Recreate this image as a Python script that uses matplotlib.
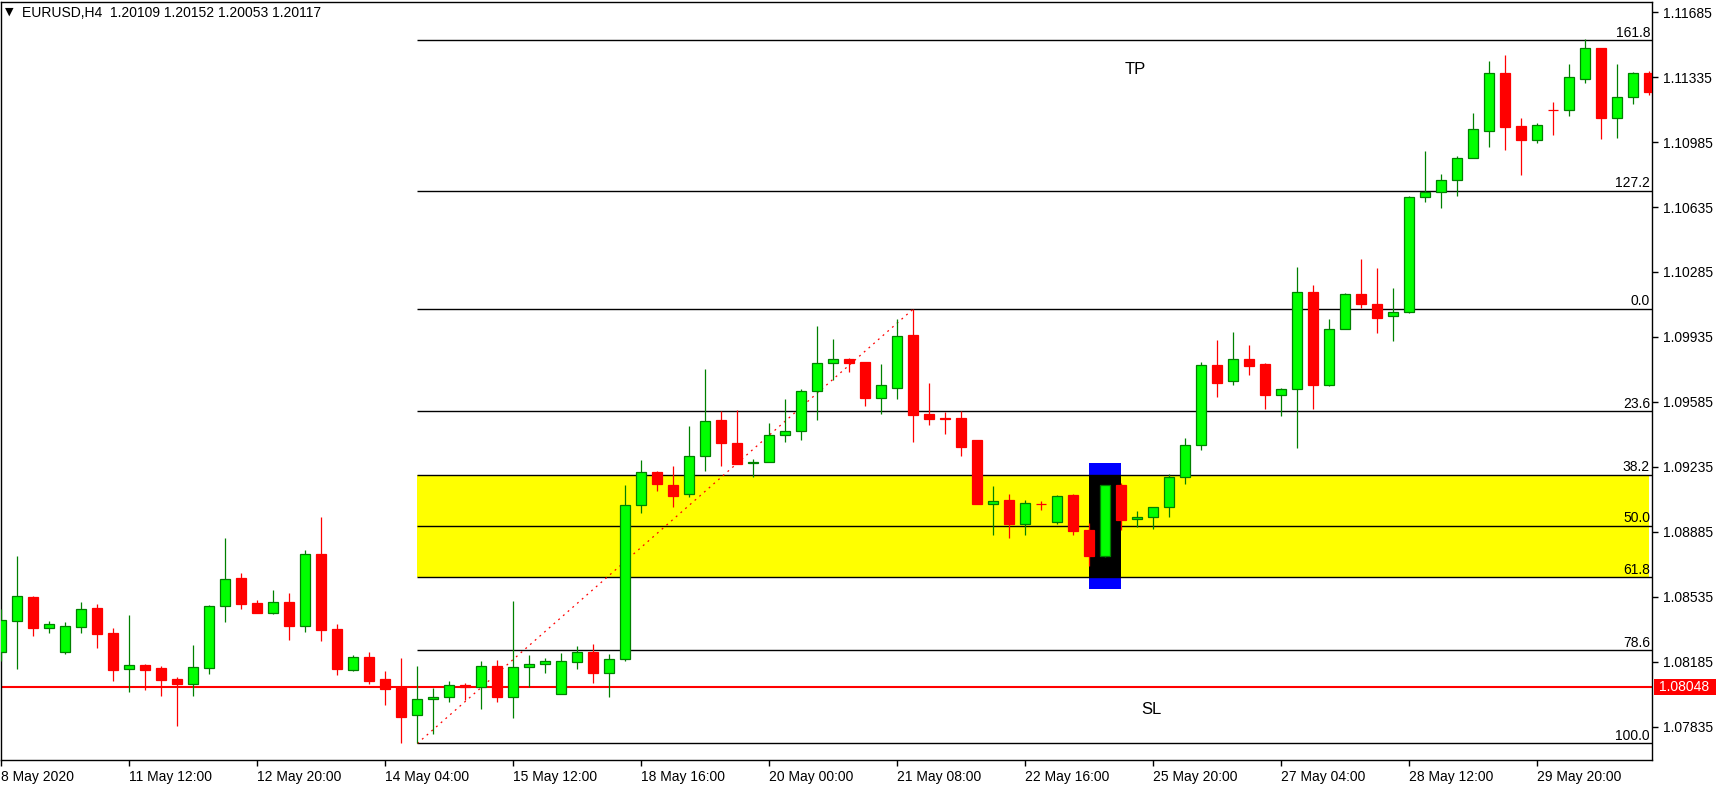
import matplotlib
matplotlib.use('Agg')
import matplotlib.pyplot as plt
from matplotlib.patches import Rectangle
import matplotlib.transforms as mtransforms

# ---------------- data (EURUSD H4 candles) ----------------
opens = [1.08240, 1.08404, 1.08533, 1.08370, 1.08240, 1.08375, 1.08474, 1.08340, 1.08149, 1.08167,
         1.08151, 1.08092, 1.08065, 1.08154, 1.08488, 1.08636, 1.08501, 1.08451, 1.08506, 1.08380,
         1.08765, 1.08361, 1.08144, 1.08210, 1.08092, 1.08052, 1.07897, 1.07984, 1.07995, 1.08060,
         1.08052, 1.08162, 1.07998, 1.08157, 1.08173, 1.08014, 1.08183, 1.08237, 1.08127, 1.08200,
         1.09029, 1.09206, 1.09136, 1.09087, 1.09292, 1.09486, 1.09363, 1.09258, 1.09260, 1.09406,
         1.09427, 1.09643, 1.09793, 1.09815, 1.09799, 1.09608, 1.09662, 1.09946, 1.09520, 1.09497,
         1.09498, 1.09381, 1.09034, 1.09055, 1.08930, 1.09036, 1.08940, 1.09082, 1.08894, 1.08757,
         1.09136, 1.08953, 1.08964, 1.09018, 1.09180, 1.09352, 1.09783, 1.09697, 1.09819, 1.09789,
         1.09621, 1.09656, 1.10176, 1.09678, 1.09976, 1.10165, 1.10111, 1.10046, 1.10068, 1.10687,
         1.10714, 1.10779, 1.10897, 1.11043, 1.11355, 1.11070, 1.10994, 1.11160, 1.11156, 1.11326,
         1.11490, 1.11117, 1.11226, 1.11355]
highs = [1.08470, 1.08756, 1.08540, 1.08406, 1.08400, 1.08508, 1.08497, 1.08368, 1.08438, 1.08174,
         1.08163, 1.08104, 1.08277, 1.08492, 1.08853, 1.08664, 1.08519, 1.08573, 1.08557, 1.08788,
         1.08966, 1.08390, 1.08223, 1.08239, 1.08137, 1.08207, 1.08163, 1.08045, 1.08083, 1.08070,
         1.08190, 1.08196, 1.08513, 1.08223, 1.08205, 1.08232, 1.08270, 1.08282, 1.08228, 1.09136,
         1.09273, 1.09213, 1.09240, 1.09456, 1.09763, 1.09534, 1.09542, 1.09276, 1.09470, 1.09601,
         1.09653, 1.09994, 1.09924, 1.09822, 1.09799, 1.09790, 1.10032, 1.10086, 1.09687, 1.09531,
         1.09535, 1.09381, 1.09133, 1.09090, 1.09057, 1.09050, 1.09084, 1.09090, 1.08932, 1.09136,
         1.09147, 1.08998, 1.09018, 1.09197, 1.09391, 1.09800, 1.09919, 1.09962, 1.09890, 1.09794,
         1.09660, 1.10312, 1.10213, 1.10030, 1.10170, 1.10355, 1.10307, 1.10197, 1.10694, 1.10937,
         1.10813, 1.10910, 1.11141, 1.11421, 1.11455, 1.11114, 1.11087, 1.11200, 1.11405, 1.11540,
         1.11490, 1.11405, 1.11360, 1.11366]
lows = [1.08192, 1.08149, 1.08327, 1.08343, 1.08230, 1.08343, 1.08262, 1.08084, 1.08025, 1.08036,
        1.08004, 1.07842, 1.08004, 1.08122, 1.08402, 1.08472, 1.08450, 1.08445, 1.08305, 1.08348,
        1.08300, 1.08117, 1.08138, 1.08068, 1.07955, 1.07751, 1.07746, 1.07799, 1.07971, 1.07980,
        1.07934, 1.07971, 1.07885, 1.08049, 1.08127, 1.08014, 1.08146, 1.08074, 1.07998, 1.08192,
        1.08989, 1.09107, 1.09021, 1.09075, 1.09215, 1.09242, 1.09253, 1.09183, 1.09260, 1.09371,
        1.09382, 1.09490, 1.09704, 1.09748, 1.09565, 1.09522, 1.09603, 1.09371, 1.09463, 1.09414,
        1.09296, 1.09037, 1.08870, 1.08854, 1.08870, 1.09001, 1.08930, 1.08870, 1.08704, 1.08752,
        1.08897, 1.08914, 1.08903, 1.08967, 1.09145, 1.09328, 1.09614, 1.09678, 1.09733, 1.09549,
        1.09510, 1.09339, 1.09549, 1.09672, 1.09976, 1.10093, 1.09958, 1.09915, 1.10064, 1.10664,
        1.10631, 1.10696, 1.10897, 1.10960, 1.10944, 1.10809, 1.10981, 1.11024, 1.11127, 1.11304,
        1.11003, 1.11009, 1.11191, 1.11238]
closes = [1.08410, 1.08539, 1.08370, 1.08388, 1.08377, 1.08469, 1.08337, 1.08144, 1.08167, 1.08144,
          1.08090, 1.08068, 1.08157, 1.08485, 1.08630, 1.08499, 1.08451, 1.08506, 1.08380, 1.08765,
          1.08359, 1.08149, 1.08210, 1.08084, 1.08041, 1.07891, 1.07984, 1.07995, 1.08060, 1.08052,
          1.08162, 1.07998, 1.08157, 1.08173, 1.08189, 1.08189, 1.08237, 1.08127, 1.08200, 1.09029,
          1.09206, 1.09141, 1.09080, 1.09293, 1.09481, 1.09366, 1.09253, 1.09260, 1.09406, 1.09427,
          1.09643, 1.09793, 1.09815, 1.09797, 1.09608, 1.09675, 1.09939, 1.09517, 1.09495, 1.09494,
          1.09344, 1.09037, 1.09050, 1.08930, 1.09039, 1.09034, 1.09077, 1.08892, 1.08757, 1.09136,
          1.08951, 1.08964, 1.09018, 1.09180, 1.09352, 1.09783, 1.09689, 1.09819, 1.09780, 1.09621,
          1.09653, 1.10176, 1.09678, 1.09976, 1.10165, 1.10114, 1.10039, 1.10068, 1.10687, 1.10716,
          1.10779, 1.10897, 1.11053, 1.11355, 1.11067, 1.10994, 1.11075, 1.11158, 1.11333, 1.11490,
          1.11116, 1.11226, 1.11355, 1.11256]

date_tick_idx = [0, 8, 16, 24, 32, 40, 48, 56, 64, 72, 80, 88, 96]
date_tick_labels = ['8 May 2020', '11 May 12:00', '12 May 20:00', '14 May 04:00', '15 May 12:00',
                    '18 May 16:00', '20 May 00:00', '21 May 08:00', '22 May 16:00', '25 May 20:00',
                    '27 May 04:00', '28 May 12:00', '29 May 20:00']
price_ticks = [1.07835, 1.08185, 1.08535, 1.08885, 1.09235, 1.09585, 1.09935,
               1.10285, 1.10635, 1.10985, 1.11335, 1.11685]

fib_ratios = [161.8, 127.2, 0.0, 23.6, 38.2, 50.0, 61.8, 78.6, 100.0]
swing_high, swing_high_idx = 1.10086, 57
swing_low, swing_low_idx = 1.07746, 26
fib_end_idx = 103
zone_top_ratio, zone_bottom_ratio = 38.2, 61.8

sl_price = 1.08048
box_idx = (68, 70)
box_outer = (1.08578, 1.09257)

title_text = 'EURUSD,H4  1.20109 1.20152 1.20053 1.20117'

# ---------------- figure ----------------
W, H = 1729, 790
plt.rcParams['font.family'] = ['Liberation Sans', 'DejaVu Sans']
fig = plt.figure(figsize=(W / 100, H / 100), dpi=100)
fig.patch.set_facecolor('white')
ax = fig.add_axes([1 / W, 30 / H, 1651 / W, 758 / H])
ax.set_facecolor('white')

ax.set_xlim(-0.02, 103.17)
ax.set_ylim(1.07657, 1.11739)

rng = swing_high - swing_low


def fib_price(r):
    # levels above 100 are projected above the swing high (extension targets)
    if r > 100:
        return swing_high + (r - 100.0) / 100.0 * rng
    return swing_high - r / 100.0 * rng


# yellow zone
ztop, zbot = fib_price(zone_top_ratio), fib_price(zone_bottom_ratio)
ax.add_patch(Rectangle((swing_low_idx, zbot), fib_end_idx - swing_low_idx, ztop - zbot,
                       facecolor='#ffff00', edgecolor='none', zorder=1))
# highlight box
ax.add_patch(Rectangle((box_idx[0], box_outer[0]), box_idx[1] - box_idx[0],
                       box_outer[1] - box_outer[0], facecolor='#0000ff', edgecolor='none', zorder=1.2))
ax.add_patch(Rectangle((box_idx[0], zbot), box_idx[1] - box_idx[0], ztop - zbot,
                       facecolor='black', edgecolor='none', zorder=1.3))

# fib lines + labels
lbl_tr = mtransforms.blended_transform_factory(ax.transAxes, ax.transData)
for r in fib_ratios:
    p = fib_price(r)
    ax.plot([swing_low_idx, 103.17], [p, p], color='black', lw=1.0, zorder=2, solid_capstyle='butt')
    ax.text(0.9988, p + 0.00004, f'{r:.1f}', transform=lbl_tr, ha='right', va='bottom',
            fontsize=10, color='black', zorder=6)

# SL line
ax.axhline(sl_price, color='#ff0000', lw=1.5, zorder=2.2)

# dotted trend line
ax.plot([swing_low_idx, swing_high_idx], [swing_low, swing_high], color='#ff0000',
        lw=0.9, linestyle=(0, (1.5, 3.5)), zorder=2.5)

# candles
GREEN_FILL, GREEN_EDGE = '#00ff00', '#008000'
RED = '#ff0000'
for i in range(len(opens)):
    o, h, l, c = opens[i], highs[i], lows[i], closes[i]
    up = c >= o
    edge = GREEN_EDGE if up else RED
    fill = GREEN_FILL if up else RED
    ax.vlines(i, l, h, color=edge, lw=0.9, zorder=3)
    bottom = min(o, c)
    height = max(abs(c - o), 0.000005)
    ax.bar(i, height, bottom=bottom, width=0.62, color=fill, edgecolor=edge,
           linewidth=0.9, zorder=4)

# TP / SL text
ax.text(70.9, 1.11378, 'TP', fontsize=12, ha='center', va='center', zorder=6)
ax.text(71.9, 1.07927, 'SL', fontsize=12, ha='center', va='center', zorder=6)

# axes styling
for s in ax.spines.values():
    s.set_color('black')
    s.set_linewidth(1.0)
ax.yaxis.tick_right()
ax.set_yticks(price_ticks)
ax.set_yticklabels([f'{v:.5f}' for v in price_ticks])
ax.set_xticks(date_tick_idx)
ax.set_xticklabels(date_tick_labels)
ax.tick_params(axis='both', direction='out', length=4, width=1, color='black',
               labelsize=10, labelcolor='black')
ax.tick_params(axis='y', pad=4)
ax.tick_params(axis='x', pad=3)
for lab in ax.get_xticklabels():
    lab.set_horizontalalignment('left')

# price label box
px_tr = mtransforms.blended_transform_factory(fig.transFigure, ax.transData)
half = 8 / 18571.4
fig.patches.append(Rectangle((1654 / W, sl_price - half), 62 / W, 2 * half,
                             transform=px_tr, facecolor='#ff0000', edgecolor='none', zorder=5))
fig.text(1659 / W, sl_price, '1.08048', transform=px_tr, color='white', fontsize=10,
         ha='left', va='center', zorder=6)

# title
fig.text(5 / W, 1 - 12 / H, '\u25bc', fontsize=8, ha='left', va='center',
         family=['DejaVu Sans'])
fig.text(22 / W, 1 - 13 / H, title_text, fontsize=10, ha='left', va='center')

fig.savefig('out.png', dpi=100, facecolor='white')
